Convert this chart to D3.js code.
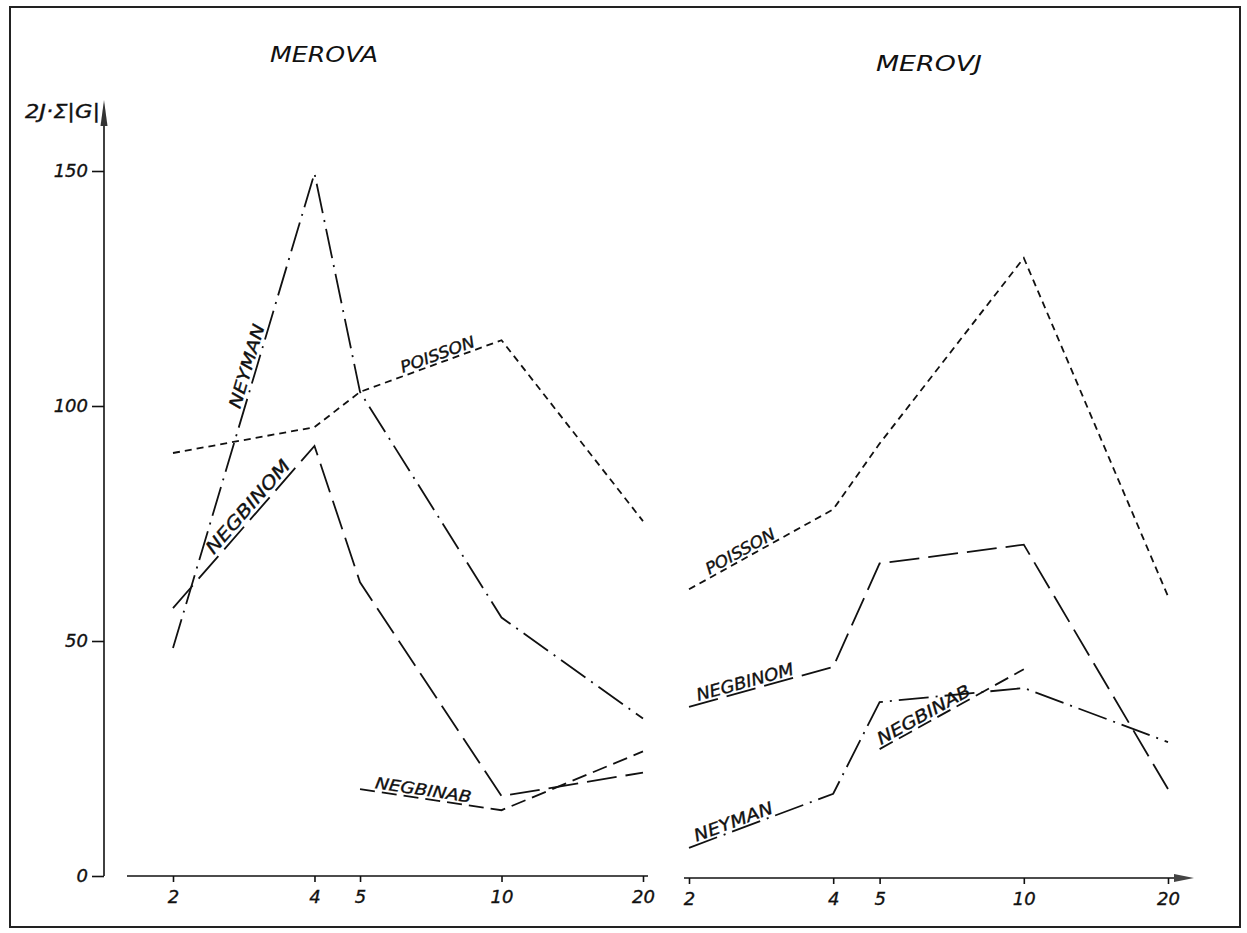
<!DOCTYPE html>
<html>
<head>
<meta charset="utf-8">
<script src="https://cdn.jsdelivr.net/npm/d3@7"></script>
<style>
body { margin: 0; background: #fff; }
text { font-family: "DejaVu Sans", sans-serif; font-style: italic; fill: #111; stroke: #111; stroke-width: 0.35; }
.axis path, .axis line { stroke: #111; stroke-width: 1.6; }
.series { fill: none; stroke: #111; stroke-width: 1.8; }
</style>
</head>
<body>
<div id="content"></div>
<script>
// x categories (number of classes) and y ticks
var xValues = [2, 4, 5, 10, 20];
var xNegbinabA = [5, 10, 20];
var xNegbinabJ = [5, 10];
var yTicks = [0, 50, 100, 150];

// MEROVA
var merovaPoisson = [90, 95.5, 103, 114, 75.5];
var merovaNegbinom = [57, 91.5, 62.5, 17, 22];
var merovaNeyman = [48.5, 149.5, 103, 55, 33.5];
var merovaNegbinab = [18.5, 14, 26.5];

// MEROVJ
var merovjPoisson = [61, 78, 92, 131.5, 59.5];
var merovjNegbinom = [36, 44.5, 66.5, 70.5, 18.5];
var merovjNeyman = [6, 17.5, 37, 40, 28.5];
var merovjNegbinab = [27, 44];

var W = 1247, H = 933;

var svg = d3.select("#content").append("svg")
    .attr("width", W)
    .attr("height", H);

// frame
svg.append("rect")
    .attr("x", 10).attr("y", 7)
    .attr("width", 1230).attr("height", 920)
    .attr("fill", "none")
    .attr("stroke", "#222")
    .attr("stroke-width", 2);

var yScale = d3.scaleLinear().domain([0, 150]).range([876, 171]);
var xLeft = d3.scaleLog().domain([2, 20]).range([173, 643]);
var xRight = d3.scaleLog().domain([2, 20]).range([689, 1168]);

var dashes = {
    poisson: "7,5",
    negbinom: "30,9",
    neyman: "30,7,2,7",
    negbinab: "15,7"
};

// y axis
var yAxis = d3.axisLeft(yScale)
    .tickValues(yTicks)
    .tickSize(12)
    .tickPadding(4)
    .tickFormat(d3.format("d"));

var gy = svg.append("g")
    .attr("class", "axis")
    .attr("transform", "translate(104,0)")
    .call(yAxis);
gy.select(".domain").remove();
gy.selectAll("text").style("font-size", "18px");

svg.append("line")
    .attr("x1", 104).attr("x2", 104)
    .attr("y1", yScale(0)).attr("y2", 118)
    .attr("stroke", "#111").attr("stroke-width", 1.6);
svg.append("path")
    .attr("d", "M104,100L100.5,126L107.5,126Z")
    .attr("fill", "#333");

svg.append("text")
    .attr("x", 100).attr("y", 118)
    .attr("text-anchor", "end")
    .attr("textLength", 75)
    .attr("lengthAdjust", "spacingAndGlyphs")
    .style("font-size", "20px")
    .text("2J·Σ|G|");

// x axes
function drawXAxis(scale, y0, x1, x2, arrow) {
    var ax = d3.axisBottom(scale)
        .tickValues(xValues)
        .tickSize(6)
        .tickPadding(8)
        .tickFormat(d3.format("d"));
    var g = svg.append("g")
        .attr("class", "axis")
        .attr("transform", "translate(0," + y0 + ")")
        .call(ax);
    g.select(".domain").remove();
    g.selectAll("text").style("font-size", "18px");
    svg.append("line")
        .attr("x1", x1).attr("x2", x2)
        .attr("y1", y0).attr("y2", y0)
        .attr("stroke", "#111").attr("stroke-width", 1.6);
    if (arrow) {
        svg.append("path")
            .attr("d", "M" + (x2 + 18) + "," + y0 + "L" + (x2 - 2) + "," + (y0 - 4) + "L" + (x2 - 2) + "," + (y0 + 4) + "Z")
            .attr("fill", "#444");
    }
}
drawXAxis(xLeft, yScale(0), 127, 648, false);
drawXAxis(xRight, yScale(0) + 2, 684, 1176, true);

// titles
svg.append("text")
    .attr("x", 324).attr("y", 62)
    .attr("text-anchor", "middle")
    .attr("textLength", 108)
    .attr("lengthAdjust", "spacingAndGlyphs")
    .style("font-size", "22px")
    .style("stroke-width", 0)
    .text("MEROVA");
svg.append("text")
    .attr("x", 929).attr("y", 71)
    .attr("text-anchor", "middle")
    .attr("textLength", 106)
    .attr("lengthAdjust", "spacingAndGlyphs")
    .style("font-size", "22px")
    .style("stroke-width", 0)
    .text("MEROVJ");

// series
var line = d3.line();

function drawSeries(scale, xs, ys, dash) {
    var pts = xs.map(function(x, i) { return [scale(x), yScale(ys[i])]; });
    svg.append("path")
        .attr("class", "series")
        .attr("d", line(pts))
        .attr("stroke-dasharray", dash);
    return pts;
}

// label along a segment, sitting on the line
function label(pts, seg, t, off, txt, len, size) {
    var a = pts[seg], b = pts[seg + 1];
    var ang = Math.atan2(b[1] - a[1], b[0] - a[0]);
    var px = a[0] + (b[0] - a[0]) * t + Math.sin(ang) * off,
        py = a[1] + (b[1] - a[1]) * t - Math.cos(ang) * off;
    svg.append("text")
        .attr("transform", "translate(" + px + "," + py + ") rotate(" + (ang * 180 / Math.PI) + ")")
        .attr("textLength", len)
        .attr("lengthAdjust", "spacingAndGlyphs")
        .style("font-size", size + "px")
        .text(txt);
}

var aPois = drawSeries(xLeft, xValues, merovaPoisson, dashes.poisson);
var aNegb = drawSeries(xLeft, xValues, merovaNegbinom, dashes.negbinom);
var aNey = drawSeries(xLeft, xValues, merovaNeyman, dashes.neyman);
var aNab = drawSeries(xLeft, xNegbinabA, merovaNegbinab, dashes.negbinab);

var jPois = drawSeries(xRight, xValues, merovjPoisson, dashes.poisson);
var jNegb = drawSeries(xRight, xValues, merovjNegbinom, dashes.negbinom);
var jNey = drawSeries(xRight, xValues, merovjNeyman, dashes.neyman);
var jNab = drawSeries(xRight, xNegbinabJ, merovjNegbinab, dashes.negbinab);

label(aNey, 0, 0.5, 4, "NEYMAN", 87, 17);
label(aPois, 2, 0.31, 3, "POISSON", 78, 16);
label(aNegb, 0, 0.31, 4, "NEGBINOM", 118, 18);
label(aNab, 0, 0.1, 3, "NEGBINAB", 97, 16);

label(jPois, 0, 0.15, 3, "POISSON", 77, 16);
label(jNegb, 0, 0.07, 3, "NEGBINOM", 100, 17);
label(jNab, 0, 0.02, 3, "NEGBINAB", 104, 17);
label(jNey, 0, 0.06, 3, "NEYMAN", 83, 17);
</script>
</body>
</html>
